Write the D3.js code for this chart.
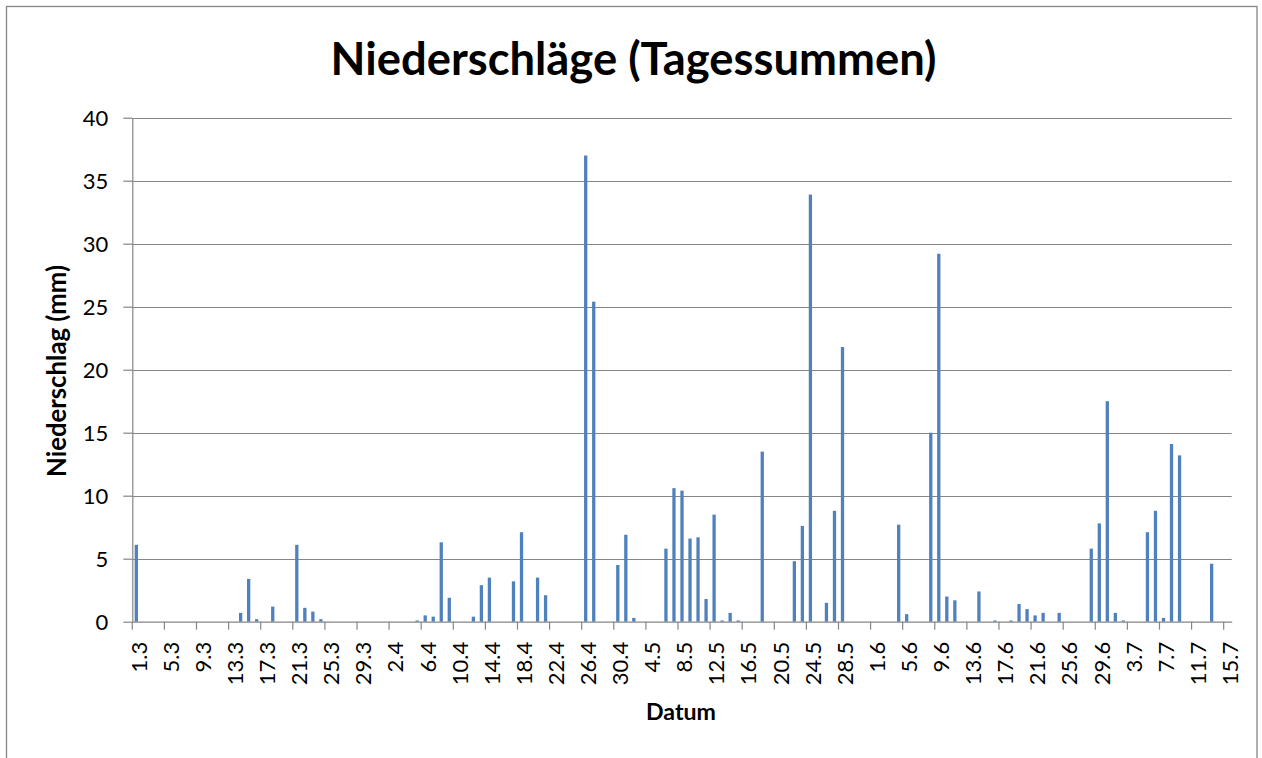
<!DOCTYPE html>
<html>
<head>
<meta charset="utf-8">
<script src="https://cdn.jsdelivr.net/npm/d3@7"></script>
<style>
  html, body { margin: 0; padding: 0; background: #fff; }
  svg { display: block; }
</style>
</head>
<body>
<svg id="chart" width="1262" height="758"></svg>
<script>
// ---- data (daily precipitation, mm) ----
const monthNumbers = [3, 4, 5, 6, 7];
const march = [6.1,0,0,0,0,0,0,0,0,0,0,0,0,0.7,3.4,0.2,0,1.2,0,0,6.1,1.1,0.8,0.2,0,0,0,0,0,0,0];
const april = [0,0,0,0,0.1,0.5,0.4,6.3,1.9,0,0,0.4,2.9,3.5,0,0,3.2,7.1,0,3.5,2.1,0,0,0,0,37.0,25.4,0,0,4.5];
const may   = [6.9,0.3,0,0,0,5.8,10.6,10.4,6.6,6.7,1.8,8.5,0.1,0.7,0.1,0,0,13.5,0,0,0,4.8,7.6,33.9,0,1.5,8.8,21.8,0,0,0];
const june  = [0,0,0,7.7,0.6,0,0,15.0,29.2,2.0,1.7,0,0,2.4,0,0.1,0,0.1,1.4,1.0,0.5,0.7,0,0.7,0,0,0,5.8,7.8,17.5];
const july  = [0.7,0.1,0,0,7.1,8.8,0.3,14.1,13.2,0,0,0,4.6,0,0];
const monthValues = [march, april, may, june, july];

const tickLabels = ["1.3","5.3","9.3","13.3","17.3","21.3","25.3","29.3","2.4","6.4","10.4","14.4",
  "18.4","22.4","26.4","30.4","4.5","8.5","12.5","16.5","20.5","24.5","28.5","1.6","5.6","9.6",
  "13.6","17.6","21.6","25.6","29.6","3.7","7.7","11.7","15.7"];
const yTicks = [0, 5, 10, 15, 20, 25, 30, 35, 40];

const titleText = "Niederschläge (Tagessummen)";
const yTitleText = "Niederschlag (mm)";
const xTitleText = "Datum";

(function () {
// categories "d.m" built from the month arrays
const data = [];
monthValues.forEach((arr, mi) => {
  arr.forEach((v, di) => data.push({ cat: (di + 1) + "." + monthNumbers[mi], value: v }));
});
const categories = data.map(d => d.cat);

// ---- layout ----
const svg = d3.select("#chart");
const pLeft = 132.3, pRight = 1231.7, pTop = 117.7, pBottom = 621.7;
const gridColor = "#868686";
const font = "Lato, 'Open Sans', sans-serif";

svg.append("rect").attr("x", 6.5).attr("y", 6.5).attr("width", 1250.5).attr("height", 800)
  .attr("fill", "#fff").attr("stroke", gridColor).attr("stroke-width", 1.3);

const x = d3.scaleBand().domain(categories).range([pLeft, pRight]).paddingInner(0.59).paddingOuter(0.295);
const y = d3.scaleLinear().domain([0, 40]).range([pBottom, pTop]);

// gridlines
svg.append("g").selectAll("line").data(yTicks.filter(t => t > 0)).join("line")
  .attr("x1", pLeft).attr("x2", pRight)
  .attr("y1", d => Math.round(y(d)) + 0.5).attr("y2", d => Math.round(y(d)) + 0.5)
  .attr("stroke", gridColor).attr("stroke-width", 1.2);

// y axis
const yAxis = svg.append("g").attr("transform", `translate(${pLeft},0)`)
  .call(d3.axisLeft(y).tickValues(yTicks).tickSize(9).tickPadding(15).tickSizeOuter(0));
yAxis.select(".domain").attr("stroke", gridColor).attr("stroke-width", 1.2);
yAxis.selectAll(".tick line").attr("stroke", gridColor).attr("stroke-width", 1.2);
yAxis.selectAll(".tick text").attr("font-family", font).attr("font-size", 22).attr("fill", "#000")
  .attr("dy", "0.36em");

// bars
svg.append("g").selectAll("rect").data(data.filter(d => d.value > 0)).join("rect")
  .attr("x", d => x(d.cat)).attr("width", x.bandwidth())
  .attr("y", d => y(d.value)).attr("height", d => y(0) - y(d.value))
  .attr("fill", "#4F81BD");

// x axis
const xAxis = svg.append("g").attr("transform", `translate(0,${pBottom})`)
  .call(d3.axisBottom(x).tickValues(tickLabels).tickSize(0).tickSizeOuter(0).tickPadding(0));
xAxis.select(".domain").attr("stroke", gridColor).attr("stroke-width", 1.2);
xAxis.selectAll(".tick text")
  .attr("font-family", font).attr("font-size", 22).attr("fill", "#000")
  .attr("text-anchor", "end")
  .attr("transform", "translate(10.3,20) rotate(-90)")
  .attr("x", 0).attr("y", 0).attr("dy", 0);

// x tick marks at category boundaries
svg.append("g").selectAll("line").data(tickLabels).join("line")
  .attr("x1", d => x(d) - x.step() * x.paddingOuter())
  .attr("x2", d => x(d) - x.step() * x.paddingOuter())
  .attr("y1", pBottom).attr("y2", pBottom + 8)
  .attr("stroke", gridColor).attr("stroke-width", 1.2);

// titles, fitted to measured widths
function fit(sel, target) {
  const w = sel.node().getComputedTextLength();
  const fs = parseFloat(sel.attr("font-size"));
  sel.attr("font-size", fs * target / w);
}
const title = svg.append("text").text(titleText)
  .attr("x", 633.5).attr("y", 75).attr("text-anchor", "middle")
  .attr("font-family", font).attr("font-weight", "bold").attr("font-size", 40).attr("fill", "#000");
fit(title, 606);

const yTitle = svg.append("text").text(yTitleText)
  .attr("transform", "translate(66,371) rotate(-90)").attr("text-anchor", "middle")
  .attr("font-family", font).attr("font-weight", "bold").attr("font-size", 20).attr("fill", "#000");
fit(yTitle, 212);

const xTitle = svg.append("text").text(xTitleText)
  .attr("x", 681).attr("y", 720).attr("text-anchor", "middle")
  .attr("font-family", font).attr("font-weight", "bold").attr("font-size", 20).attr("fill", "#000");
fit(xTitle, 70);
})();
</script>
</body>
</html>
